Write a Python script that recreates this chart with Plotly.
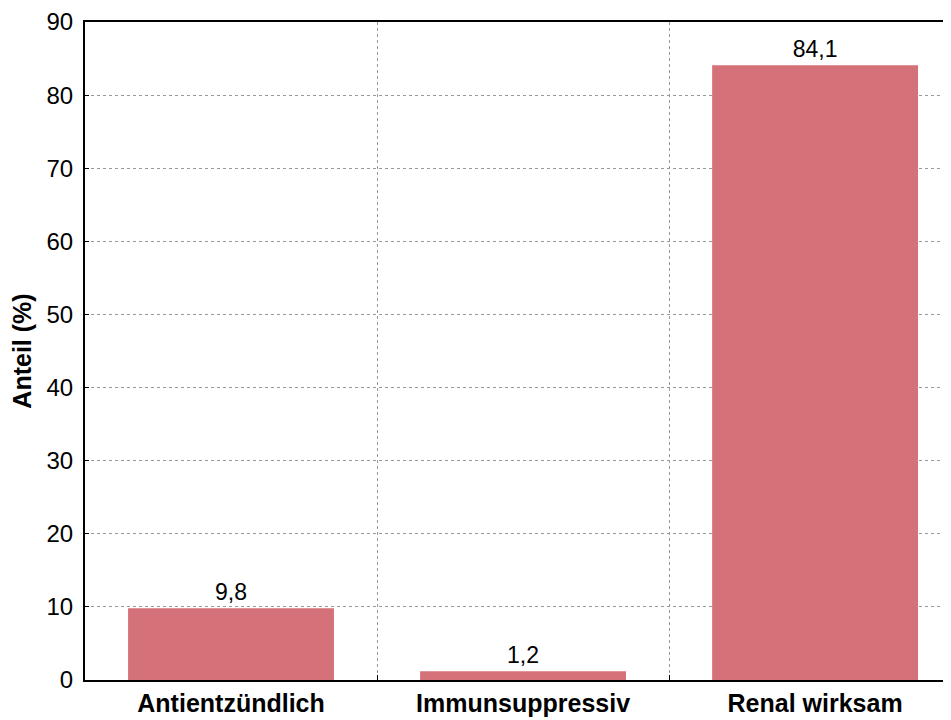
import plotly.graph_objects as go

categories = ["Antientzündlich", "Immunsuppressiv", "Renal wirksam"]
values = [9.8, 1.2, 84.1]
y_ticks = [0, 10, 20, 30, 40, 50, 60, 70, 80, 90]

bar_color = "#D57179"
FONT = "Liberation Sans, Arial"

fig = go.Figure(
    go.Bar(
        x=categories,
        y=values,
        width=0.705,
        marker=dict(color=bar_color, line=dict(width=0)),
        texttemplate="%{y:.1f}",
        textposition="outside",
        textfont=dict(family=FONT, size=23, color="#000"),
        cliponaxis=False,
    )
)

fig.update_layout(
    width=935,
    height=712,
    separators=",.",
    plot_bgcolor="white",
    paper_bgcolor="white",
    margin=dict(l=77, r=0, t=14, b=40, autoexpand=False),
    showlegend=False,
    font=dict(family=FONT, color="#000"),
)

fig.update_xaxes(
    type="category",
    range=[-0.5, 2.438],
    tickson="boundaries",
    ticks="inside",
    ticklen=5,
    tickcolor="#000",
    showline=True,
    linecolor="#000",
    linewidth=2,
    mirror=True,
    showgrid=True,
    gridcolor="#999",
    griddash="dot",
    gridwidth=1,
    automargin=False,
    tickfont=dict(size=25, family=FONT, color="#000", weight="bold"),
)

fig.update_yaxes(
    range=[0, 90],
    tickvals=y_ticks,
    ticks="inside",
    ticklen=4,
    tickcolor="#000",
    showline=True,
    linecolor="#000",
    linewidth=2,
    mirror=False,
    showgrid=True,
    gridcolor="#999",
    griddash="dot",
    gridwidth=1,
    zeroline=False,
    automargin=False,
    ticklabelstandoff=5,
    tickfont=dict(size=24, family=FONT, color="#000"),
    title=dict(text="Anteil (%)", font=dict(size=25, family=FONT, color="#000", weight="bold"), standoff=12),
)

fig.write_html("out.html")
